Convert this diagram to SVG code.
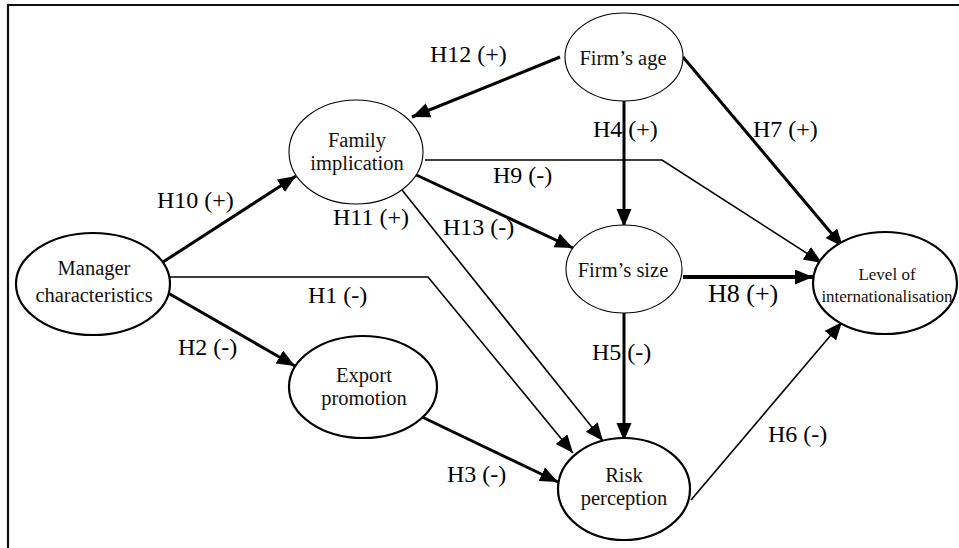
<svg xmlns="http://www.w3.org/2000/svg" width="959" height="548" viewBox="0 0 959 548">
<style>
.bg{fill:#fff}
.frame{fill:none;stroke:#111;stroke-width:2.2}
.n{fill:#fff;stroke:#000}
.thick{stroke-width:2.2}
.thin{stroke-width:1.1}
.nt{font-family:"Liberation Serif","Times New Roman",serif;font-size:20.5px;fill:#111;text-anchor:middle}
.small{font-size:17px}
.lb{font-family:"Liberation Serif","Times New Roman",serif;font-size:24px;fill:#000}
.c{fill:none;stroke:#000;stroke-linejoin:miter}
.w3{stroke-width:3}
.w2{stroke-width:1.6}
</style>
<defs>
<marker id="ah" markerUnits="userSpaceOnUse" markerWidth="20" markerHeight="16" refX="18" refY="7.5" orient="auto" viewBox="0 0 20 16">
<path d="M0,0 L18,7.5 L0,15 Z" fill="#000"/>
</marker>
</defs>
<rect class="bg" x="0" y="0" width="959" height="548"/>
<path class="frame" d="M8,548 L8,5 L959,5"/>
<g id="connectors">
<path class="c w3" d="M560,57 L412,117" marker-end="url(#ah)"/>
<path class="c w3" d="M163,262 L296,176" marker-end="url(#ah)"/>
<path class="c w3" d="M412,173 L573,248" marker-end="url(#ah)"/>
<path class="c w2" d="M402,190 L603,441" marker-end="url(#ah)"/>
<path class="c w2" d="M425,160 L662,160 L822,263" marker-end="url(#ah)"/>
<path class="c w2" d="M170,277 L428,277 L573,453" marker-end="url(#ah)"/>
<path class="c w3" d="M624,100 L624,227" marker-end="url(#ah)"/>
<path class="c w3" d="M683,57 L843,247" marker-end="url(#ah)"/>
<path class="c" style="stroke-width:4" d="M683,277 L813,277" marker-end="url(#ah)"/>
<path class="c w3" d="M624,307 L624,441" marker-end="url(#ah)"/>
<path class="c w2" d="M691,500 L842,322" marker-end="url(#ah)"/>
<path class="c w3" d="M168,293 L295,366" marker-end="url(#ah)"/>
<path class="c w3" d="M422,417 L558,482" marker-end="url(#ah)"/>
</g>
<g id="labels">
<text class="lb" x="430" y="62">H12 (+)</text>
<text class="lb" x="157" y="208">H10 (+)</text>
<text class="lb" x="333" y="225">H11 (+)</text>
<text class="lb" x="443" y="235">H13 (-)</text>
<text class="lb" x="493" y="183">H9 (-)</text>
<text class="lb" x="593" y="137">H4 (+)</text>
<text class="lb" x="753" y="137">H7 (+)</text>
<text class="lb" x="308" y="303">H1 (-)</text>
<text class="lb" x="178" y="355">H2 (-)</text>
<text class="lb" x="708" y="302" style="font-size:26px">H8 (+)</text>
<text class="lb" x="592" y="360">H5 (-)</text>
<text class="lb" x="768" y="442">H6 (-)</text>
<text class="lb" x="447" y="482">H3 (-)</text>
</g>
<g id="manager">
<ellipse class="n thick" cx="93" cy="284" rx="77" ry="51"/>
<text class="nt" x="94" y="275">Manager</text>
<text class="nt" x="94" y="302">characteristics</text>
</g>
<g id="family">
<ellipse class="n thin" cx="356" cy="152" rx="67" ry="52"/>
<text class="nt" x="357" y="147">Family</text>
<text class="nt" x="357" y="170">implication</text>
</g>
<g id="age">
<ellipse class="n thin" cx="624" cy="57" rx="59" ry="44"/>
<text class="nt" x="623" y="65">Firm’s age</text>
</g>
<g id="size">
<ellipse class="n thin" cx="624" cy="269" rx="58" ry="44"/>
<text class="nt" x="623" y="277">Firm’s size</text>
</g>
<g id="level">
<ellipse class="n thick" cx="885" cy="283" rx="72" ry="51"/>
<text class="nt small" x="887" y="280">Level of</text>
<text class="nt small" x="887" y="302">internationalisation</text>
</g>
<g id="export">
<ellipse class="n thick" cx="363" cy="387" rx="74" ry="51"/>
<text class="nt" x="364" y="382">Export</text>
<text class="nt" x="364" y="405">promotion</text>
</g>
<g id="risk">
<ellipse class="n thick" cx="624" cy="489" rx="66" ry="51"/>
<text class="nt" x="624" y="482">Risk</text>
<text class="nt" x="624" y="505">perception</text>
</g>
</svg>
